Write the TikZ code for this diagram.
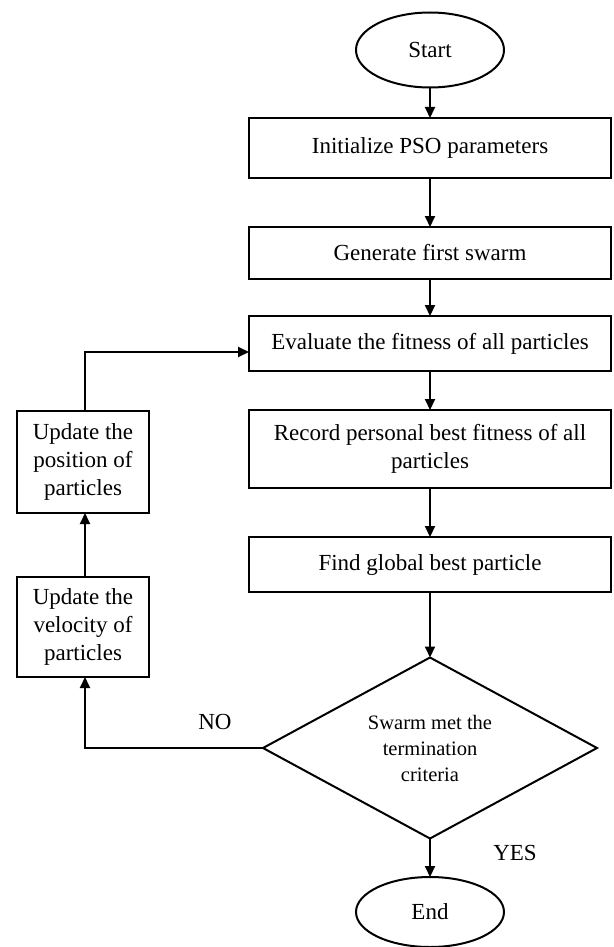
\documentclass[tikz,border=0pt]{standalone}
\usepackage{fontspec}
\setmainfont{Liberation Serif}
\usetikzlibrary{shapes.geometric,arrows.meta}
\begin{document}
\begin{tikzpicture}[x=1pt,y=-1pt,
  every node/.style={inner sep=0pt,outer sep=0pt},
  boxstyle/.style={draw,line width=2pt,rectangle,align=center,font=\fontsize{23}{28}\selectfont},
  ovalstyle/.style={draw,line width=2pt,ellipse,font=\fontsize{23}{28}\selectfont},
  decstyle/.style={draw,line width=2pt,diamond,aspect=1.85,align=center,font=\fontsize{20.5}{26}\selectfont},
  lbl/.style={font=\fontsize{23}{26}\selectfont},
  conn/.style={line width=2pt,-{Triangle[length=11pt,width=10pt]}}]
\useasboundingbox (0,0) rectangle (613,947);
\node[ovalstyle,minimum width=148pt,minimum height=75pt] (start) at (430,50) {Start};
\node[boxstyle,minimum width=362pt,minimum height=60pt] (init) at (430,148) {Initialize PSO parameters};
\node[boxstyle,minimum width=362pt,minimum height=52pt] (gen) at (430,253) {Generate first swarm};
\node[boxstyle,minimum width=362pt,minimum height=55pt] (eval) at (430,343.5) {Evaluate the fitness of all particles};
\node[boxstyle,minimum width=362pt,minimum height=78pt] (rec) at (430,449) {Record personal best fitness of all\\particles};
\node[boxstyle,minimum width=362pt,minimum height=55pt] (find) at (430,564.5) {Find global best particle};
\node[decstyle,minimum width=334pt,minimum height=181pt] (dec) at (430,748) {Swarm met the\\termination\\criteria};
\node[ovalstyle,minimum width=148pt,minimum height=70pt] (end) at (430,912) {End};
\node[boxstyle,minimum width=132pt,minimum height=102pt] (pos) at (83,462) {Update the\\position of\\particles};
\node[boxstyle,minimum width=132pt,minimum height=100pt] (vel) at (83,627) {Update the\\velocity of\\particles};
\node[lbl] (no) at (215,722) {NO};
\node[lbl] (yes) at (515,853) {YES};
\coordinate (c1) at (85,748);
\coordinate (c2) at (85,352);
\draw[conn] (start) -- (init);
\draw[conn] (init) -- (gen);
\draw[conn] (gen) -- (eval);
\draw[conn] (eval) -- (rec);
\draw[conn] (rec) -- (find);
\draw[conn] (find) -- (dec);
\draw[conn] (dec) -- (end);
\draw[conn] (dec.west) -- (c1) -- (vel.south -| c1);
\draw[conn] (vel.north -| c1) -- (pos.south -| c1);
\draw[conn] (pos.north -| c2) -- (c2) -- (c2 -| eval.west);
\end{tikzpicture}
\end{document}
